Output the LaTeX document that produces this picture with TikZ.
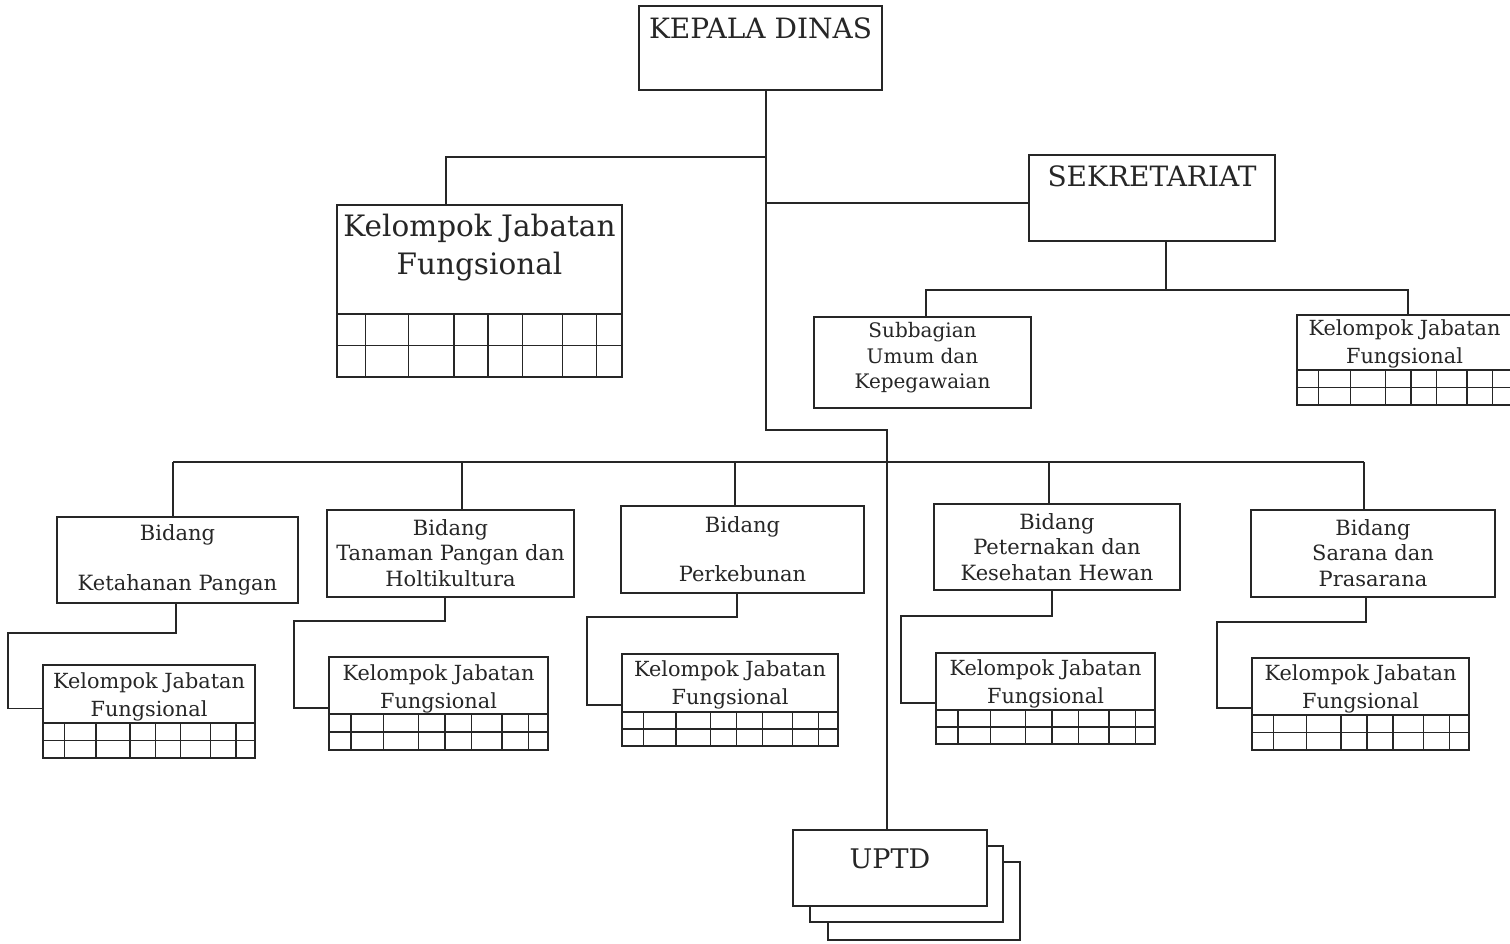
\documentclass[tikz,border=0pt]{standalone}
\usepackage{fontspec}
\setmainfont{DejaVu Serif}
\usepackage{tikz}
\usetikzlibrary{positioning,calc}
\tikzset{every picture/.style={line width=1.3pt}}
\tikzset{
  unit/.style={draw=black!85, rectangle, inner sep=0pt, outer sep=0pt, fill=white},
  headtxt/.style={inner sep=0pt, align=center, text=black!85, font=\fontsize{28}{38}\selectfont},
  smalltxt/.style={inner sep=0pt, align=center, text=black!85, font=\fontsize{20}{25.5}\selectfont},
  bidtxt/.style={inner sep=0pt, align=center, text=black!85, font=\fontsize{21}{25.5}\selectfont},
  jabtxt/.style={inner sep=0pt, align=center, text=black!85, font=\fontsize{20.8}{27.5}\selectfont},
  wire/.style={draw=black!85},
}

\newcommand{\unitbox}[6][]{%
  \node[unit,#1,minimum width={(#5-#3)*1pt},minimum height={(#6-#4)*1pt}] (#2) at ({(#3+#5)/2},{(#4+#6)/2}) {};}
\newcommand{\jabgrid}[4]{%
  \draw[wire] (#1,#3) -- (#2,#3) (#1,{(#3+#4)/2}) -- (#2,{(#3+#4)/2});
  \foreach \f in {0.1,0.25,0.41,0.53,0.65,0.79,0.91}
    \draw[wire] ({#1+\f*(#2-#1)},#3) -- ({#1+\f*(#2-#1)},#4);}
\newcommand{\subline}[5]{%
  \draw[wire] ($(#1.south)+(#3,0)$) -- ++(0,#4) -| ($(#2.west)+(-35,#5)$) -- ($(#2.west)+(0,#5)$);}

\begin{document}
\begin{tikzpicture}[x=1pt,y=1pt,yscale=-1,xscale=1]
    \useasboundingbox (0,0) rectangle (1510,943);
    % top level
    \unitbox{kadis}{639}{6}{882}{90}
    \node[headtxt] (kadist) at (760.5,28) {KEPALA DINAS};
    \unitbox{sekre}{1029}{155}{1275}{241}
    \node[headtxt] (sekret) at (1152,176) {SEKRETARIAT};
    \unitbox{jabf}{337}{205}{622}{377}
    \node[headtxt, font=\fontsize{29.5}{38}\selectfont] (jabft) at (479.5,248) {Kelompok Jabatan\\Fungsional};
    \jabgrid{337}{622}{314}{377}
    \unitbox{umum}{814}{317}{1031}{408}
    \node[smalltxt] (umumt) at (922.5,358) {Subbagian\\Umum dan\\Kepegawaian};
    \unitbox{jabs}{1297}{315}{1512}{405}
    \node[jabtxt] (jabst) at (1404.5,344) {Kelompok Jabatan\\Fungsional};
    \jabgrid{1297}{1512}{370}{405}
    % bidang
    \unitbox{bkp}{57}{517}{298}{603}
    \node[bidtxt] (bkpt) at (177.5,560) {Bidang\\[24pt]Ketahanan Pangan};
    \unitbox{btp}{327}{510}{574}{597}
    \node[bidtxt] (btpt) at (450.5,553) {Bidang\\Tanaman Pangan dan\\Holtikultura};
    \unitbox{bkb}{621}{506}{864}{593}
    \node[bidtxt] (bkbt) at (742.5,549) {Bidang\\[24pt]Perkebunan};
    \unitbox{bph}{934}{504}{1180}{590}
    \node[bidtxt] (bpht) at (1057,547) {Bidang\\Peternakan dan\\Kesehatan Hewan};
    \unitbox{bsp}{1251}{510}{1495}{597}
    \node[bidtxt] (bspt) at (1373,553) {Bidang\\Sarana dan\\Prasarana};
    % kelompok jabatan fungsional
    \unitbox{jkp}{43}{665}{255}{758}
    \node[jabtxt] (jkpt) at (149,697) {Kelompok Jabatan\\Fungsional};
    \jabgrid{43}{255}{723}{758}
    \unitbox{jtp}{329}{657}{548}{750}
    \node[jabtxt] (jtpt) at (438.5,689) {Kelompok Jabatan\\Fungsional};
    \jabgrid{329}{548}{714}{750}
    \unitbox{jkb}{622}{654}{838}{746}
    \node[jabtxt] (jkbt) at (730,685) {Kelompok Jabatan\\Fungsional};
    \jabgrid{622}{838}{712}{746}
    \unitbox{jph}{936}{653}{1155}{744}
    \node[jabtxt] (jpht) at (1045.5,684) {Kelompok Jabatan\\Fungsional};
    \jabgrid{936}{1155}{710}{744}
    \unitbox{jsp}{1252}{658}{1469}{750}
    \node[jabtxt] (jspt) at (1360.5,689) {Kelompok Jabatan\\Fungsional};
    \jabgrid{1252}{1469}{715}{750}
    % uptd
    \unitbox{uptdc}{828}{862}{1020}{940}
    \unitbox{uptdb}{810}{846}{1003}{922}
    \unitbox{uptd}{793}{830}{987}{906}
    \node[headtxt, font=\fontsize{27}{30}\selectfont] (uptdt) at (890,859) {UPTD};
    % lines
    \coordinate (trunk1) at (766,157);
    \coordinate (trunk2) at (766,203);
    \coordinate (trunk3) at (766,430);
    \coordinate (trunk4) at (887,430);
    \draw[wire] (kadis.south -| trunk1) -- (trunk3) -- (trunk4) -- (trunk4 |- uptd.north);
    \draw[wire] (trunk1) -| ($(jabf.north)+(-33.5,0)$);
    \draw[wire] (trunk2) -- (trunk2 -| sekre.west);
    \coordinate (sekbus) at (1166,290);
    \draw[wire] ($(sekre.south)+(14,0)$) -- (sekbus);
    \path ($(umum.north)+(3.5,0)$) coordinate (umumin) ($(jabs.north)+(3.5,0)$) coordinate (jabsin);
    \draw[wire] (umumin) -- (umumin |- sekbus) -- (jabsin |- sekbus) -- (jabsin);
    \coordinate (bidl) at (173,462);
    \coordinate (bidr) at (1364,462);
    \draw[wire] (bidl) -- (bidr);
    \foreach \bd/\dx in {bkp/-4.5, btp/11.5, bkb/-7.5, bph/-8, bsp/-9}{
        \path ($(\bd.north)+(\dx,0)$) coordinate (bdin);
        \draw[wire] (bdin) -- (bdin |- bidl);
    }
    \subline{bkp}{jkp}{-1.5}{30}{-3}
    \subline{btp}{jtp}{-5.5}{24}{4.5}
    \subline{bkb}{jkb}{-5.5}{24}{5}
    \subline{bph}{jph}{-5}{26}{4.5}
    \subline{bsp}{jsp}{-7}{25}{4}
\end{tikzpicture}
\end{document}
